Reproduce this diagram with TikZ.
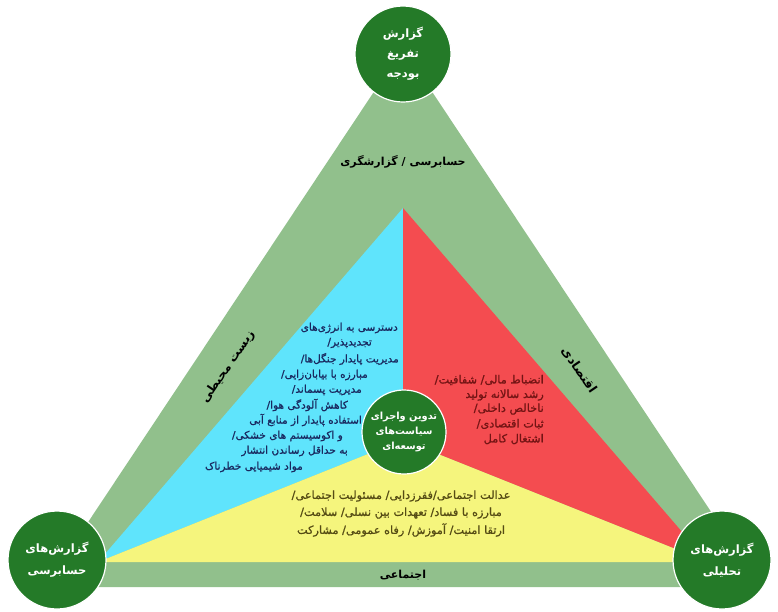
\documentclass[tikz,border=0pt]{standalone}
\usepackage{fontspec}
\newfontfamily\fa[Script=Arabic]{DejaVu Sans}
\newfontfamily\fasemi[Script=Arabic,FakeBold=1.0]{DejaVu Sans}
\TeXXeTstate=1
\newcommand\rl[1]{\beginR#1\endR}
\definecolor{bandc}{RGB}{145,192,140}
\definecolor{cyanc}{RGB}{95,228,252}
\definecolor{redc}{RGB}{244,76,80}
\definecolor{yelc}{RGB}{245,245,125}
\definecolor{circc}{RGB}{36,122,40}
\definecolor{cyantext}{RGB}{25,40,95}
\definecolor{redtext}{RGB}{115,20,20}
\definecolor{yeltext}{RGB}{85,75,20}
\tikzset{
  circnode/.style={circle, fill=circc, draw=white, line width=1.2pt, inner sep=0pt, text=white, align=center},
  bandlabel/.style={font=\fa\bfseries\fontsize{11}{13}\selectfont, text=black, inner sep=1pt},
  cyanline/.style={anchor=east, font=\fasemi\fontsize{10.5}{12}\selectfont, text=cyantext, inner sep=0pt},
  redline/.style={anchor=east, font=\fasemi\fontsize{11.3}{13}\selectfont, text=redtext, inner sep=0pt},
  yelline/.style={font=\fasemi\fontsize{11.3}{13}\selectfont, text=yeltext, inner sep=0pt}
}
\begin{document}
\begin{tikzpicture}[x=1pt,y=-1pt]
\useasboundingbox (0,0) rectangle (778,611);
\fill[white] (0,0) rectangle (778,611);
% outer triangle
\coordinate (OA) at (403,48);
\coordinate (OL) at (45,587);
\coordinate (OR) at (761,587);
\fill[bandc] (OA) -- (OL) -- (OR) -- cycle;
% inner triangle
\coordinate (IA) at (403,208);
\coordinate (IL) at (98,562);
\coordinate (IR) at (708,562);
\coordinate (IC) at (403,440);
\fill[cyanc] (IA) -- (IC) -- (IL) -- cycle;
\fill[redc] (IA) -- (IR) -- (IC) -- cycle;
\fill[yelc] (IL) -- (IC) -- (IR) -- cycle;
% band labels
\node[bandlabel] (ltop) at (403,162) {\rl{حسابرسی / گزارشگری}};
\node[bandlabel, font=\fa\bfseries\fontsize{12}{14}\selectfont, rotate=55.7] (lleft) at (228,367) {\rl{زیست محیطی}};
\node[bandlabel, font=\fa\bfseries\fontsize{12.5}{14}\selectfont, rotate=-55.7] (lright) at (579,370) {\rl{اقتصادی}};
\node[bandlabel] (lbot) at (403,575) {\rl{اجتماعی}};
% cyan text
\node[cyanline] (c1) at (398,328) {\rl{دسترسی به انرژی‌های}};
\node[cyanline] (c2) at (372,343) {\rl{تجدیدپذیر/}};
\node[cyanline] (c3) at (399,359) {\rl{مدیریت پایدار جنگل‌ها/}};
\node[cyanline] (c4) at (368,375) {\rl{مبارزه با بیابان‌زایی/}};
\node[cyanline] (c5) at (362,390) {\rl{مدیریت پسماند/}};
\node[cyanline] (c6) at (348,405) {\rl{کاهش آلودگی هوا/}};
\node[cyanline] (c7) at (362,420) {\rl{استفاده پایدار از منابع آبی}};
\node[cyanline] (c8) at (343,436) {\rl{و اکوسیستم های خشکی/}};
\node[cyanline] (c9) at (348,451) {\rl{به حداقل رساندن انتشار}};
\node[cyanline] (c10) at (303,467) {\rl{مواد شیمیایی خطرناک}};
% red text
\node[redline] (r1) at (544,380) {\rl{انضباط مالی/ شفافیت/}};
\node[redline] (r2) at (544,395) {\rl{رشد سالانه تولید}};
\node[redline] (r3) at (544,409) {\rl{ناخالص داخلی/}};
\node[redline] (r4) at (544,424) {\rl{ثبات اقتصادی/}};
\node[redline] (r5) at (544,439) {\rl{اشتغال کامل}};
% yellow text
\node[yelline] (y1) at (401,496) {\rl{عدالت اجتماعی/فقرزدایی/ مسئولیت اجتماعی/}};
\node[yelline] (y2) at (401,513) {\rl{مبارزه با فساد/ تعهدات بین نسلی/ سلامت/}};
\node[yelline] (y3) at (401,530) {\rl{ارتقا امنیت/ آموزش/ رفاه عمومی/ مشارکت}};
% circles
\node[circnode, minimum size=96pt, font=\fa\bfseries\fontsize{11.5}{20}\selectfont] (top) at (403,54)
  {\rl{گزارش}\\\rl{تفریغ}\\\rl{بودجه}};
\node[circnode, minimum size=84pt, font=\fa\bfseries\fontsize{9.8}{15}\selectfont] (mid) at (404,432)
  {\rl{تدوین واجرای}\\\rl{سیاست‌های}\\\rl{توسعه‌ای}};
\node[circnode, minimum size=98pt, font=\fa\bfseries\fontsize{11.5}{22}\selectfont] (bl) at (57,560)
  {\rl{گزارش‌های}\\\rl{حسابرسی}};
\node[circnode, minimum size=98pt, font=\fa\bfseries\fontsize{11.5}{22}\selectfont] (br) at (722,560)
  {\rl{گزارش‌های}\\\rl{تحلیلی}};
\end{tikzpicture}
\end{document}
